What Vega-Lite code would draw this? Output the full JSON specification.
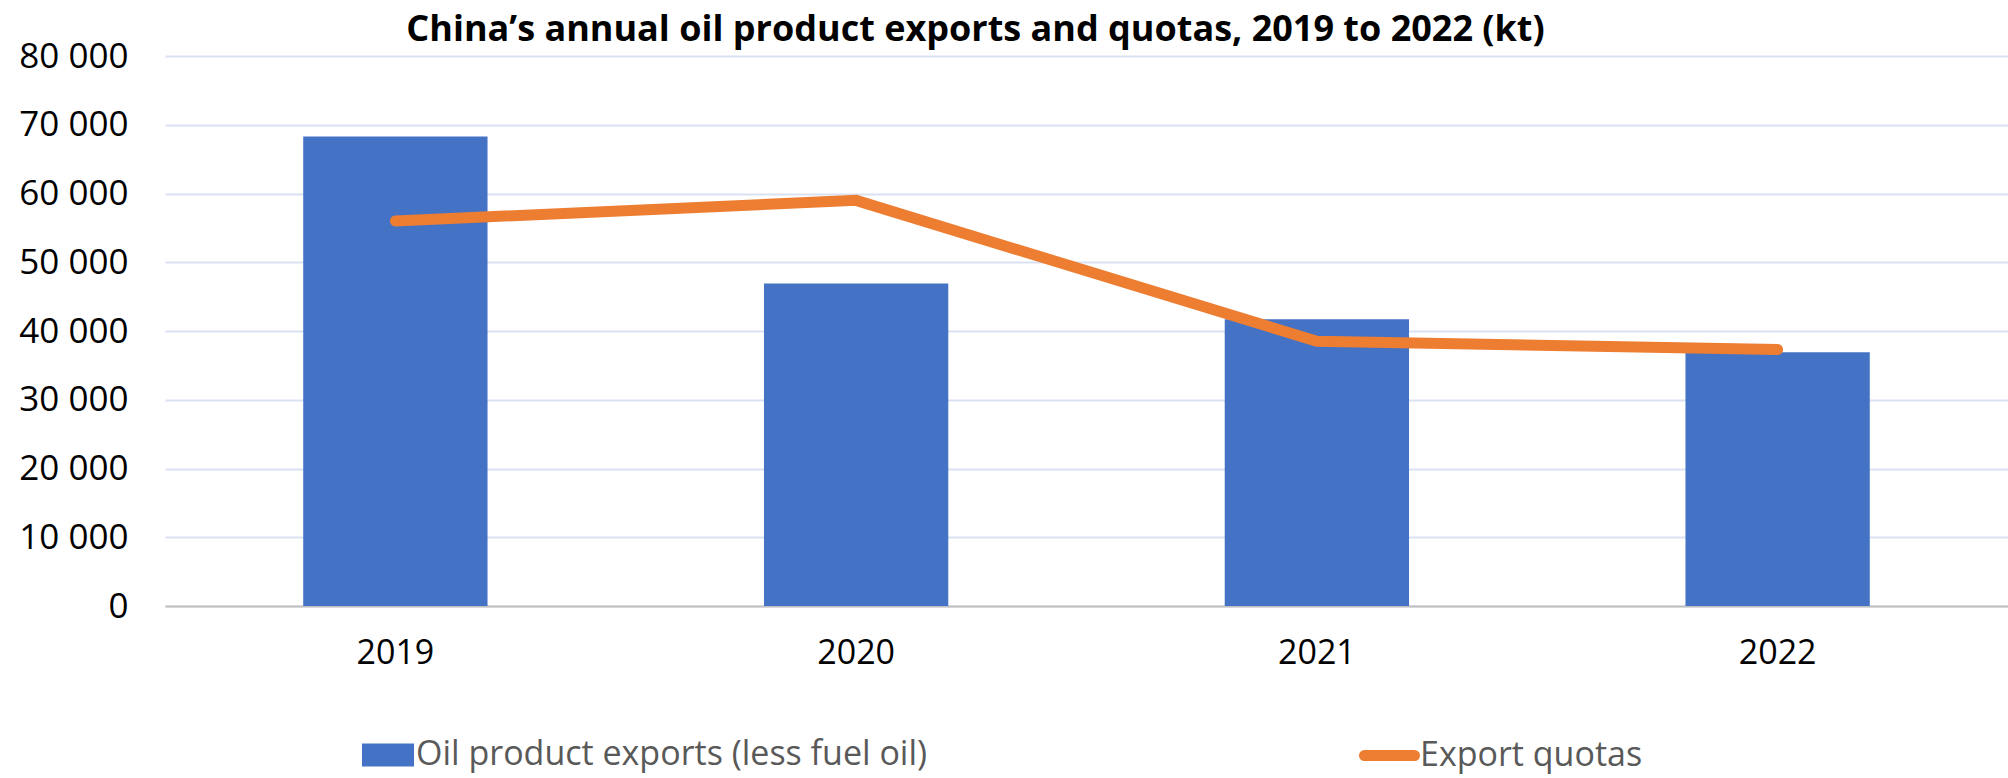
{
  "$schema": "https://vega.github.io/schema/vega-lite/v6.json",
  "autosize": {"type": "none"},
  "width": 1843,
  "height": 550,
  "padding": {"left": 165, "top": 56, "right": 0, "bottom": 172},
  "background": "white",
  "title": {
    "text": "China’s annual oil product exports and quotas, 2019 to 2022 (kt)",
    "font": "Open Sans",
    "fontWeight": "bold",
    "fontSize": 36,
    "color": "black",
    "anchor": "middle",
    "frame": "group",
    "dx": -111,
    "dy": 18,
    "offset": 8
  },
  "data": {
    "values": [
      {"year": "2019", "exports": 68300, "quotas": 56000},
      {"year": "2020", "exports": 46900, "quotas": 59000},
      {"year": "2021", "exports": 41700, "quotas": 38500},
      {"year": "2022", "exports": 36900, "quotas": 37300}
    ]
  },
  "encoding": {
    "x": {
      "field": "year",
      "type": "nominal",
      "scale": {"paddingInner": 0.6, "paddingOuter": 0.3},
      "axis": {
        "title": null,
        "labelAngle": 0,
        "labelFont": "Open Sans",
        "labelFontSize": 34,
        "labelColor": "black",
        "labelPadding": 30,
        "ticks": false,
        "domainColor": "#BFBFBF",
        "domainWidth": 2,
        "grid": false
      }
    }
  },
  "layer": [
    {
      "mark": {"type": "bar"},
      "encoding": {
        "y": {
          "field": "exports",
          "type": "quantitative",
          "scale": {"domain": [0, 80000], "nice": false},
          "axis": {
            "title": null,
            "values": [0, 10000, 20000, 30000, 40000, 50000, 60000, 70000, 80000],
            "labelExpr": "replace(format(datum.value, ','), ',', ' ')",
            "labelFont": "Open Sans",
            "labelFontSize": 35,
            "labelColor": "black",
            "labelPadding": 37,
            "ticks": false,
            "domain": false,
            "grid": true,
            "gridColor": "#D9E1F2",
            "gridWidth": 2
          }
        },
        "fill": {
          "datum": "Oil product exports (less fuel oil)",
          "type": "nominal",
          "scale": {"range": ["#4472C4"]},
          "legend": {
            "title": null,
            "orient": "none",
            "legendX": 197,
            "legendY": 673,
            "padding": 0,
            "symbolType": "M-1,-0.44H1V0.44H-1Z",
            "symbolSize": 2704,
            "symbolStrokeWidth": 0,
            "labelFont": "Open Sans",
            "labelFontSize": 34,
            "labelColor": "#595959",
            "labelOffset": 2,
            "labelLimit": 0
          }
        }
      }
    },
    {
      "mark": {"type": "line", "strokeWidth": 11, "strokeCap": "round"},
      "encoding": {
        "y": {"field": "quotas", "type": "quantitative"},
        "stroke": {
          "datum": "Export quotas",
          "type": "nominal",
          "scale": {"range": ["#ED7D31"]},
          "legend": {
            "title": null,
            "orient": "none",
            "legendX": 1194,
            "legendY": 669,
            "padding": 0,
            "symbolType": "stroke",
            "symbolSize": 2500,
            "symbolStrokeWidth": 11,
            "labelFont": "Open Sans",
            "labelFontSize": 34,
            "labelColor": "#595959",
            "labelOffset": 0,
            "labelLimit": 0,
            "encode": {"symbols": {"update": {"strokeCap": {"value": "round"}}}}
          }
        }
      }
    }
  ],
  "config": {"view": {"stroke": null}}
}
